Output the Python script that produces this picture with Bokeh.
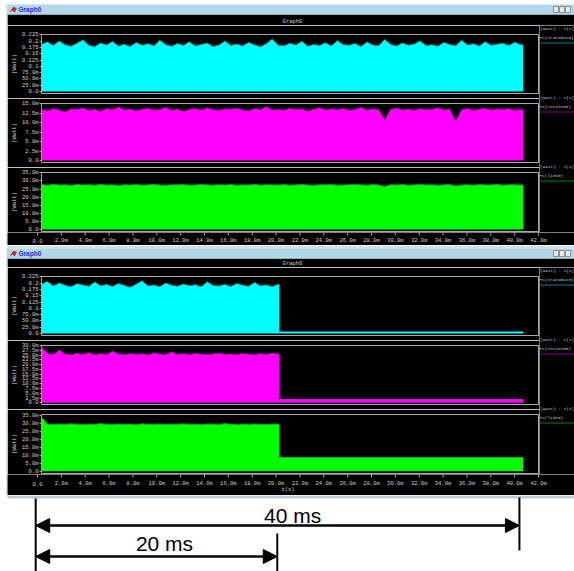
import numpy as np
from bokeh.plotting import figure
from bokeh.layouts import column, row
from bokeh.models import Range1d, FixedTicker, Arrow, NormalHead
from bokeh.core.properties import value
from bokeh.embed import file_html
from bokeh.resources import INLINE

# ---------------- data ----------------
sample_ms = 0.5          # spacing of the read-off samples (ms)
run1_end_ms = 40.7       # top window: the run ends here
run2_drop_ms = 20.1      # bottom window: power drops here
run2_end_ms = 40.7

series_names = ["Pc(transmit0)", "Pc(recieve0)", "Pc(link0)"]
axis_units = "(Watt) : t(s)"
x_axis_name = "t(s)"
window_title = "Graph0"

# top window (40 ms of full activity), values in mW
transmit1_mw = [188, 197, 183, 201, 186, 180, 192, 206, 184, 178,
                193, 185, 199, 181, 188, 179, 195, 184, 190, 182,
                204, 186, 180, 191, 183, 198, 181, 187, 193, 179,
                185, 201, 183, 189, 181, 195, 186, 178, 190, 209,
                184, 182, 192, 185, 200, 180, 187, 183, 194, 181,
                203, 186, 184, 191, 179, 197, 185, 182, 207, 187,
                181, 193, 184, 189, 201, 183, 186, 180, 195, 187,
                182, 204, 185, 190, 181, 198, 184, 188, 192, 183,
                196, 186]
recieve1_mw = [13.6, 13.2, 13.8, 13.4, 12.9, 13.7, 13.5, 14.0, 13.3, 13.6,
               13.1, 13.8, 13.5, 14.2, 13.4, 13.7, 13.2, 13.6, 13.9, 13.4,
               13.5, 14.1, 13.3, 13.7, 13.0, 13.6, 13.8, 13.4, 14.0, 13.5,
               13.3, 13.7, 13.6, 13.9, 13.4, 13.2, 13.8, 13.5, 14.3, 13.4,
               13.6, 13.3, 13.9, 13.5, 13.7, 13.1, 13.6, 14.0, 13.4, 13.7,
               13.5, 13.8, 13.3, 13.6, 14.1, 13.4, 13.7, 13.5, 10.8, 13.6,
               13.9, 13.4, 13.7, 13.3, 13.8, 13.5, 13.6, 14.0, 13.4, 13.7,
               10.4, 13.5, 13.8, 13.3, 13.6, 13.9, 13.4, 13.7, 13.5, 13.8,
               13.3, 13.6]
link1_mw = [27.8, 27.4, 27.9, 27.5, 27.6, 27.3, 27.8, 27.5, 27.7, 27.4,
            27.9, 27.5, 27.6, 27.2, 27.7, 27.5, 27.8, 27.4, 27.6, 27.9,
            27.5, 27.3, 27.7, 27.6, 27.8, 27.4, 27.5, 27.9, 27.6, 27.4,
            27.7, 27.5, 27.8, 27.3, 27.6, 27.5, 27.9, 27.4, 27.7, 27.6,
            27.5, 27.8, 27.4, 27.6, 27.9, 27.5, 27.3, 27.7, 27.6, 27.8,
            27.4, 27.5, 27.7, 27.9, 27.6, 27.4, 27.8, 27.5, 26.6, 27.7,
            27.5, 27.8, 27.4, 27.6, 27.9, 27.5, 27.7, 27.3, 27.6, 27.8,
            26.9, 27.5, 27.7, 27.4, 27.8, 27.6, 27.5, 27.9, 27.4, 27.7,
            27.6, 27.5]

# bottom window (20 ms of activity, then idle), values in mW
transmit2_mw = [196, 207, 189, 201, 192, 186, 198, 193, 188, 205,
                190, 195, 187, 199, 191, 184, 196, 210, 189, 193,
                186, 201, 192, 188, 197, 190, 194, 186, 206, 191,
                189, 195, 187, 199, 192, 188, 203, 190, 193, 187,
                196]
recieve2_mw = [29.3, 26.0, 25.4, 27.8, 25.6, 25.2, 26.1, 25.5, 26.4, 25.3,
               25.9, 25.4, 27.2, 25.7, 25.3, 26.0, 25.5, 25.8, 25.2, 26.3,
               25.6, 25.4, 26.8, 25.5, 25.9, 25.3, 26.1, 25.6, 25.4, 25.8,
               26.2, 25.5, 25.7, 25.3, 26.0, 25.6, 25.4, 25.9, 25.5, 26.2,
               25.7]
link2_mw = [34.0, 29.6, 29.3, 29.7, 29.4, 29.8, 29.5, 29.2, 29.6, 29.4,
            29.9, 29.5, 29.3, 29.7, 29.4, 29.6, 29.2, 29.8, 29.5, 29.4,
            29.7, 29.3, 29.6, 29.5, 29.8, 29.4, 29.6, 29.2, 29.7, 29.5,
            29.4, 29.9, 29.5, 29.3, 29.6, 29.4, 29.7, 29.5, 29.3, 29.6,
            29.5]
transmit2_low_mw = 8.0
recieve2_low_mw = 2.0
link2_low_mw = 8.8

# tick values and labels
x_ticks_ms = [0, 2, 4, 6, 8, 10, 12, 14, 16, 18, 20, 22, 24, 26, 28, 30,
              32, 34, 36, 38, 40, 42]
x_tick_labels = ["0.0", "2.0m", "4.0m", "6.0m", "8.0m", "10.0m", "12.0m",
                 "14.0m", "16.0m", "18.0m", "20.0m", "22.0m", "24.0m", "26.0m",
                 "28.0m", "30.0m", "32.0m", "34.0m", "36.0m", "38.0m", "40.0m",
                 "42.0m"]
transmit_ticks = [0.0, 0.025, 0.05, 0.075, 0.1, 0.125, 0.15, 0.175, 0.2, 0.225]
transmit_labels = ["0.0", "25.0m", "50.0m", "75.0m", "0.1", "0.125", "0.15",
                   "0.175", "0.2", "0.225"]
recieve1_ticks = [0.0, 0.0025, 0.005, 0.0075, 0.01, 0.0125, 0.015]
recieve1_labels = ["0.0", "2.5m", "5.0m", "7.5m", "10.0m", "12.5m", "15.0m"]
recieve2_ticks = [0.0, 0.0025, 0.005, 0.0075, 0.01, 0.0125, 0.015, 0.0175,
                  0.02, 0.0225, 0.025, 0.0275, 0.03]
recieve2_labels = ["0.0", "2.5m", "5.0m", "7.5m", "10.0m", "12.5m", "15.0m",
                   "17.5m", "20.0m", "22.5m", "25.0m", "27.5m", "30.0m"]
link_ticks = [0.0, 0.005, 0.01, 0.015, 0.02, 0.025, 0.03, 0.035]
link_labels = ["0.0", "5.0m", "10.0m", "15.0m", "20.0m", "25.0m", "30.0m", "35.0m"]

# annotation below the screenshots
span_start_ms = -0.15
span_ends_ms = [20.1, 40.4]
span_labels = ["20 ms", "40 ms"]

# ---------------- styling / layout ----------------
FONT = "Liberation Mono"
TXT = "#d0d0d0"
FRAME = "#a8a8a8"
FILLS = ["#00ffff", "#ff00ff", "#00ff00"]
EDGES = ["#008b8b", "#8b008b", "#00a000"]
LEGEND_LINES = ["#008080", "#800080", "#008000"]
TITLEBAR = "#b0d8e8"
BORDER = "#bcc8d4"
PAGE_W = 574
WIN_L = 7                 # left edge of the screenshot windows
FRAME_L, FRAME_R = 37, 538
DATA_W = 539 - WIN_L
LEG_L = 539
LEG_W = PAGE_W - LEG_L
SMALL = "5.5px"
LEG_FONT = "4.4px"
MPP = 42 / (FRAME_R - FRAME_L)   # ms per pixel of the plot frames


def base_fig(w, h, xr, yr, bg="black"):
    p = figure(width=w, height=h, x_range=xr, y_range=yr,
               x_axis_location=None, y_axis_location=None,
               output_backend="svg", toolbar_location=None, min_border=0)
    p.background_fill_color = bg
    p.border_fill_color = bg
    p.outline_line_color = None
    p.grid.grid_line_color = None
    return p


def margin_fig(h):
    p = base_fig(WIN_L, h, Range1d(0, WIN_L), Range1d(0, 1), bg="white")
    p.segment(x0=[WIN_L - 0.5], x1=[WIN_L - 0.5], y0=[0], y1=[1],
              line_color=BORDER, line_width=1)
    return p


def data_fig(height, top, bottom, yr, ticks, labels):
    p = figure(width=DATA_W, height=height, x_range=Range1d(0, 42),
               y_range=Range1d(*yr), x_axis_location=None,
               output_backend="svg", toolbar_location=None,
               min_border_left=FRAME_L - WIN_L, min_border_right=1,
               min_border_top=top, min_border_bottom=bottom)
    p.background_fill_color = "black"
    p.border_fill_color = "black"
    p.outline_line_color = FRAME
    p.outline_line_width = 1
    p.grid.grid_line_color = None
    ya = p.yaxis[0]
    ya.ticker = FixedTicker(ticks=ticks)
    ya.major_label_overrides = dict(zip(ticks, labels))
    ya.axis_line_color = None
    ya.major_tick_line_color = FRAME
    ya.major_tick_out = 2
    ya.major_tick_in = 0
    ya.minor_tick_line_color = None
    ya.major_label_text_font = FONT
    ya.major_label_text_font_size = SMALL
    ya.major_label_text_color = TXT
    ya.major_label_standoff = 1
    ya.axis_label = "(Watt)"
    ya.axis_label_text_font = FONT
    ya.axis_label_text_font_size = SMALL
    ya.axis_label_text_font_style = "normal"
    ya.axis_label_text_color = TXT
    ya.axis_label_standoff = 1
    return p


def tick_strip(h, label_y, name_y=None):
    """time axis under a window: tick marks and tick labels on the ms scale"""
    s0 = -(FRAME_L - WIN_L) * MPP
    s1 = 42 + (PAGE_W - FRAME_R) * MPP
    p = base_fig(PAGE_W - WIN_L, h, Range1d(s0, s1), Range1d(h, 0))
    p.segment(x0=x_ticks_ms, x1=x_ticks_ms, y0=[0] * len(x_ticks_ms),
              y1=[3] * len(x_ticks_ms), line_color=FRAME, line_width=1)
    p.text(x=x_ticks_ms, y=[label_y] * len(x_ticks_ms), text=x_tick_labels,
           text_font=value(FONT), text_font_size=SMALL, text_color=TXT,
           text_align="center", text_baseline="middle")
    if name_y is not None:
        p.text(x=[21], y=[name_y], text=[x_axis_name], text_font=value(FONT),
               text_font_size=SMALL, text_color=TXT, text_align="center",
               text_baseline="middle")
    return row(margin_fig(h), p)


def draw_full(p, vals_mw, k):
    t = [i * sample_ms for i in range(len(vals_mw))] + [run1_end_ms]
    v = [x / 1000 for x in vals_mw] + [vals_mw[-1] / 1000]
    p.varea(x=t, y1=0, y2=v, fill_color=FILLS[k])
    p.line(t, v, line_color=EDGES[k], line_width=1)


def draw_drop(p, vals_mw, low_mw, k):
    t = [i * sample_ms for i in range(len(vals_mw))] + [run2_drop_ms]
    v = [x / 1000 for x in vals_mw] + [vals_mw[-1] / 1000]
    p.varea(x=t + [run2_drop_ms, run2_end_ms], y1=0,
            y2=v + [low_mw / 1000, low_mw / 1000], fill_color=FILLS[k])
    p.line(t, v, line_color=EDGES[k], line_width=1)


def legend_fig(height, y_top, y_bottom, frame_tops):
    p = base_fig(LEG_W, height, Range1d(LEG_L, PAGE_W), Range1d(y_bottom, y_top))
    p.text(x=[LEG_L + 0.5] * 3, y=[ft - 6 for ft in frame_tops], text=[axis_units] * 3,
           text_font=value(FONT), text_font_size=LEG_FONT, text_color=TXT,
           text_baseline="middle", text_align="left")
    p.text(x=[LEG_L] * 3, y=[ft + 2.5 for ft in frame_tops], text=series_names,
           text_font=value(FONT), text_font_size=LEG_FONT, text_color=TXT,
           text_baseline="middle", text_align="left")
    p.segment(x0=[LEG_L] * 3, x1=[PAGE_W] * 3, y0=[ft + 8.5 for ft in frame_tops],
              y1=[ft + 8.5 for ft in frame_tops], line_color=LEGEND_LINES, line_width=1)
    return p


def header_fig(y_top, y_bottom, bar_top, bar_bottom, title_y, sep=None):
    p = base_fig(PAGE_W, y_bottom - y_top, Range1d(0, PAGE_W),
                 Range1d(y_bottom, y_top), bg="white")
    p.quad(left=WIN_L, right=PAGE_W, top=bar_bottom, bottom=y_bottom,
           fill_color="black", line_color=None)
    p.segment(x0=[WIN_L - 0.5], x1=[WIN_L - 0.5], y0=[bar_top], y1=[y_bottom],
              line_color=BORDER, line_width=1)
    if sep is not None:
        p.quad(left=WIN_L, right=PAGE_W, top=sep[0], bottom=sep[1],
               fill_color="#d8dde2", line_color=None)
    p.quad(left=WIN_L, right=PAGE_W, top=bar_top, bottom=bar_bottom,
           fill_color=TITLEBAR, line_color=None)
    mid = (bar_top + bar_bottom) / 2
    # little red window icon
    p.patch(x=[10, 13, 16, 14, 12, 10], y=[mid + 2, mid - 2.5, mid - 1, mid + 2.5, mid + 0.5, mid + 2],
            fill_color="#e02020", line_color="#b00000", line_width=0.5)
    p.text(x=[18], y=[mid], text=[window_title], text_font=value("Liberation Sans"),
           text_font_size="6.5px", text_font_style="bold", text_color="#1030e0",
           text_baseline="middle")
    # window buttons
    for bx in (553, 559, 565):
        p.quad(left=bx, right=bx + 5, top=mid - 3, bottom=mid + 3,
               fill_color="#e8e8e8", line_color="#707070", line_width=0.7)
    p.text(x=[292], y=[title_y], text=[window_title], text_font=value(FONT),
           text_font_size=SMALL, text_color=TXT, text_baseline="middle",
           text_align="center")
    return p


# ---------------- top window ----------------
h1 = header_fig(0, 25, 4, 14, 21)
a1 = data_fig(73, 9, 5, (-0.008, 0.2265), transmit_ticks, transmit_labels)
draw_full(a1, transmit1_mw, 0)
b1 = data_fig(69, 5, 5, (-0.0005, 0.0151), recieve1_ticks, recieve1_labels)
draw_full(b1, recieve1_mw, 1)
c1 = data_fig(65, 5, 1, (-0.0012, 0.0352), link_ticks, link_labels)
draw_full(c1, link1_mw, 2)
l1 = legend_fig(207, 25, 232, [34, 103, 172])
x1 = tick_strip(13, 8)

# ---------------- bottom window ----------------
h2 = header_fig(245, 267, 248, 258, 263, sep=(245, 248))
a2 = data_fig(73, 9, 5, (-0.008, 0.2265), transmit_ticks, transmit_labels)
draw_drop(a2, transmit2_mw, transmit2_low_mw, 0)
b2 = data_fig(69, 5, 5, (-0.0009, 0.0301), recieve2_ticks, recieve2_labels)
draw_drop(b2, recieve2_mw, recieve2_low_mw, 1)
c2 = data_fig(65, 5, 1, (-0.0014, 0.0356), link_ticks, link_labels)
draw_drop(c2, link2_mw, link2_low_mw, 2)
l2 = legend_fig(207, 267, 474, [276, 345, 414])
x2 = tick_strip(21, 9, 15)

# ---------------- duration annotation ----------------
ax0 = -FRAME_L * MPP
ax1 = 42 + (PAGE_W - FRAME_R) * MPP
an = base_fig(PAGE_W, 76, Range1d(ax0, ax1), Range1d(571, 495), bg="white")
an.quad(left=ax0 + WIN_L * MPP, right=ax1, top=495, bottom=498,
        fill_color=BORDER, line_color=None)
an.segment(x0=[span_start_ms, span_ends_ms[0], span_ends_ms[1]],
           x1=[span_start_ms, span_ends_ms[0], span_ends_ms[1]],
           y0=[498, 533, 497], y1=[571, 571, 550], line_color="black", line_width=2)
arrow_y = [556, 525]
text_y = [542.5, 515]
text_dx = [8, 15]
for end, lab, ay, ty, dx in zip(span_ends_ms, span_labels, arrow_y, text_y, text_dx):
    an.add_layout(Arrow(x_start=span_start_ms, y_start=ay, x_end=end, y_end=ay,
                        line_width=2.5, line_color="black",
                        start=NormalHead(size=14, fill_color="black", line_color="black"),
                        end=NormalHead(size=14, fill_color="black", line_color="black")))
    an.text(x=[(span_start_ms + end) / 2], y=[ty], text=[lab], x_offset=dx,
            text_font=value("Liberation Sans"), text_font_size="21px",
            text_color="black", text_align="center", text_baseline="middle")

layout = column(
    h1,
    row(margin_fig(207), column(a1, b1, c1), l1),
    x1,
    h2,
    row(margin_fig(207), column(a2, b2, c2), l2),
    x2,
    an,
)

open("out.html", "w").write(file_html(layout, INLINE))
